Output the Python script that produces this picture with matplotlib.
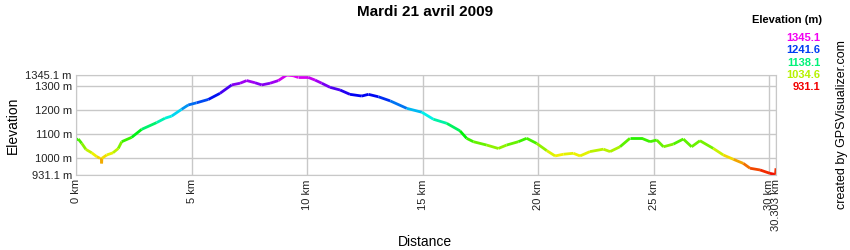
import matplotlib.pyplot as plt
import numpy as np
from matplotlib.collections import LineCollection
from matplotlib.colors import hsv_to_rgb, Normalize

plt.rcParams['font.family'] = ['Liberation Sans', 'DejaVu Sans']

# profile
dist_km = [0.0, 0.1, 0.25, 0.43, 0.68, 0.9, 1.04, 1.1, 1.11, 1.12, 1.33, 1.6, 1.83, 1.98, 2.41,
           2.84, 3.49, 3.85, 4.14, 4.57, 4.86, 5.22, 5.73, 6.23, 6.74, 7.1, 7.39, 7.75,
           8.04, 8.4, 8.76, 9.12, 9.41, 9.62, 10.06, 10.35, 10.64, 11.0, 11.43, 11.86,
           12.37, 12.66, 13.09, 13.6, 14.32, 14.97, 15.47, 16.05, 16.62, 16.91, 17.2,
           17.78, 18.28, 18.64, 19.15, 19.51, 19.94, 20.38, 20.74, 21.1, 21.53, 21.82,
           22.25, 22.83, 23.12, 23.55, 23.98, 24.49, 24.85, 25.14, 25.43, 25.86, 26.29,
           26.65, 27.01, 27.59, 28.02, 28.46, 28.89, 29.18, 29.61, 30.04, 30.28, 30.303]
elev_m = [1076, 1080, 1062, 1037, 1023, 1007, 1000, 1000, 979, 1000, 1014, 1023, 1041, 1069, 1087,
          1120, 1148, 1166, 1175, 1203, 1221, 1230, 1244, 1269, 1304, 1311, 1322, 1313,
          1304, 1311, 1322, 1345, 1342, 1335, 1335, 1324, 1311, 1294, 1283, 1265,
          1258, 1265, 1255, 1238, 1207, 1191, 1162, 1145, 1114, 1083, 1069,
          1055, 1041, 1055, 1069, 1083, 1062, 1032, 1010, 1017, 1021, 1010,
          1028, 1038, 1028, 1048, 1083, 1083, 1069, 1076, 1048, 1059, 1080,
          1048, 1073, 1041, 1014, 996, 979, 959, 952, 938, 933, 959]

y_ticks = [931.1, 1000, 1100, 1200, 1300, 1345.1]
y_labels = ["931.1 m", "1000 m", "1100 m", "1200 m", "1300 m", "1345.1 m"]
x_ticks = [0, 5, 10, 15, 20, 25, 30, 30.303]
x_labels = ["0 km", "5 km", "10 km", "15 km", "20 km", "25 km", "30 km", "30.303 km"]
legend_vals = [1345.1, 1241.6, 1138.1, 1034.6, 931.1]

emin, emax = 931.1, 1345.1
norm = Normalize(emin, emax)


def elev_color(v):
    return hsv_to_rgb([300 / 360 * norm(v), 1.0, 0.95])


fig = plt.figure(figsize=(8.5, 2.5), dpi=100)
ax = fig.add_axes([76 / 850, 0.3, 700 / 850, 0.4])

x = np.array(dist_km)
y = np.array(elev_m)
pts = np.column_stack([x, y]).reshape(-1, 1, 2)
segs = np.concatenate([pts[:-1], pts[1:]], axis=1)
cols = [elev_color((a + b) / 2) for a, b in zip(y[:-1], y[1:])]
ax.add_collection(LineCollection(segs, colors=cols, linewidths=2))

ax.set_xlim(0, 30.303)
ax.set_ylim(emin, emax)
ax.set_xticks(x_ticks)
ax.set_xticklabels(x_labels, rotation=90, fontsize=8)
ax.set_yticks(y_ticks)
ax.set_yticklabels(y_labels, fontsize=8)
ax.tick_params(length=0, pad=3, colors="#222222")
ax.grid(color="#c8c8c8", linewidth=1)
for s in ax.spines.values():
    s.set_color("#c8c8c8")
ax.set_axisbelow(True)

ax.set_ylabel("Elevation", fontsize=10)
fig.text(425 / 850, 1 - 242 / 250, "Distance", ha="center", va="center", fontsize=10)
fig.text(425 / 850, 1 - 12 / 250, "Mardi 21 avril 2009", ha="center", va="center",
         fontsize=11, fontweight="bold")

fig.text(822 / 850, 1 - 20 / 250, "Elevation (m)", ha="right", va="center",
         fontsize=8, fontweight="bold")
for i, v in enumerate(legend_vals):
    fig.text(820 / 850, 1 - (38 + i * 12.3) / 250, f"{v:.1f}", ha="right", va="center",
             fontsize=8, fontweight="bold", color=elev_color(v))

fig.text(842 / 850, 0.5, "created by GPSVisualizer.com", rotation=90,
         ha="center", va="center", fontsize=9)

fig.savefig("out.png", dpi=100)
